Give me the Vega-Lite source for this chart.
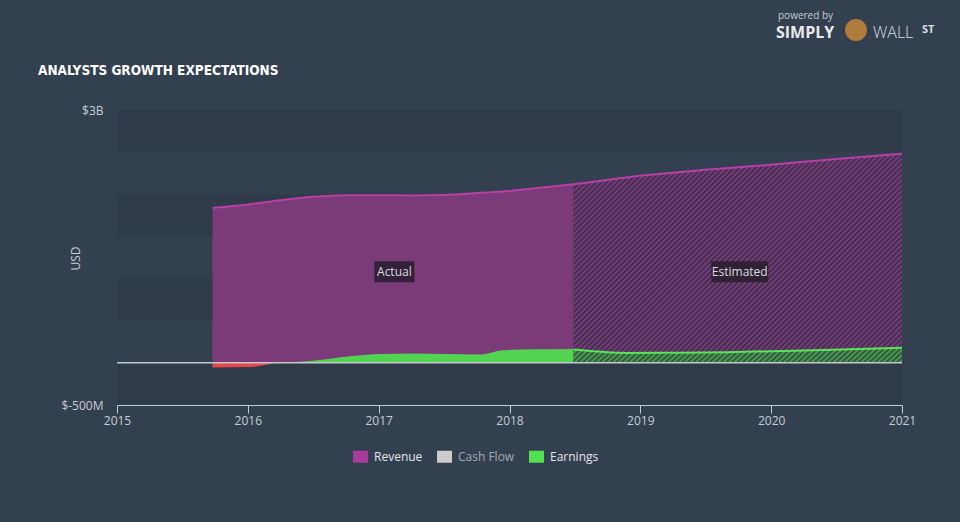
{
"$schema": "https://vega.github.io/schema/vega-lite/v6.json",
"width": 785, "height": 295,
"autosize": {"type": "none"},
"padding": {"left": 117, "top": 110, "right": 58, "bottom": 117},
"background": "#334050",
"config": {"view": {"stroke": null}, "font": "Open Sans"},
"datasets": {
"main": [
{"series": "Revenue", "period": "Actual", "year": 2015.73, "value": 1.84},
{"series": "Revenue", "period": "Actual", "year": 2016.0, "value": 1.88},
{"series": "Revenue", "period": "Actual", "year": 2016.25, "value": 1.93},
{"series": "Revenue", "period": "Actual", "year": 2016.5, "value": 1.97},
{"series": "Revenue", "period": "Actual", "year": 2016.75, "value": 1.99},
{"series": "Revenue", "period": "Actual", "year": 2017.0, "value": 1.99},
{"series": "Revenue", "period": "Actual", "year": 2017.25, "value": 1.987},
{"series": "Revenue", "period": "Actual", "year": 2017.5, "value": 1.992},
{"series": "Revenue", "period": "Actual", "year": 2017.78, "value": 2.017},
{"series": "Revenue", "period": "Actual", "year": 2018.0, "value": 2.04},
{"series": "Revenue", "period": "Actual", "year": 2018.25, "value": 2.08},
{"series": "Revenue", "period": "Actual", "year": 2018.49, "value": 2.12},
{"series": "Revenue", "period": "Estimated", "year": 2018.49, "value": 2.12},
{"series": "Revenue", "period": "Estimated", "year": 2019.0, "value": 2.22},
{"series": "Revenue", "period": "Estimated", "year": 2019.5, "value": 2.29},
{"series": "Revenue", "period": "Estimated", "year": 2020.0, "value": 2.35},
{"series": "Revenue", "period": "Estimated", "year": 2020.5, "value": 2.42},
{"series": "Revenue", "period": "Estimated", "year": 2021.0, "value": 2.48},
{"series": "Earnings", "period": "Actual", "year": 2015.73, "value": -0.055},
{"series": "Earnings", "period": "Actual", "year": 2016.0, "value": -0.05},
{"series": "Earnings", "period": "Actual", "year": 2016.1, "value": -0.035},
{"series": "Earnings", "period": "Actual", "year": 2016.22, "value": 0.0},
{"series": "Earnings", "period": "Actual", "year": 2016.5, "value": 0.025},
{"series": "Earnings", "period": "Actual", "year": 2016.76, "value": 0.075},
{"series": "Earnings", "period": "Actual", "year": 2017.0, "value": 0.105},
{"series": "Earnings", "period": "Actual", "year": 2017.27, "value": 0.112},
{"series": "Earnings", "period": "Actual", "year": 2017.5, "value": 0.105},
{"series": "Earnings", "period": "Actual", "year": 2017.78, "value": 0.1},
{"series": "Earnings", "period": "Actual", "year": 2017.95, "value": 0.15},
{"series": "Earnings", "period": "Actual", "year": 2018.2, "value": 0.16},
{"series": "Earnings", "period": "Actual", "year": 2018.49, "value": 0.165},
{"series": "Earnings", "period": "Estimated", "year": 2018.49, "value": 0.158},
{"series": "Earnings", "period": "Estimated", "year": 2018.9, "value": 0.118},
{"series": "Earnings", "period": "Estimated", "year": 2019.3, "value": 0.12},
{"series": "Earnings", "period": "Estimated", "year": 2019.66, "value": 0.127},
{"series": "Earnings", "period": "Estimated", "year": 2020.17, "value": 0.145},
{"series": "Earnings", "period": "Estimated", "year": 2020.6, "value": 0.162},
{"series": "Earnings", "period": "Estimated", "year": 2021.0, "value": 0.178}
],
"bands": [
{"lo": -0.5, "hi": 0},
{"lo": 0.5, "hi": 1},
{"lo": 1.5, "hi": 2},
{"lo": 2.5, "hi": 3}
]
},
"layer": [
{
"data": {"name": "bands"},
"mark": {"type": "rect", "fill": "#2f3b49"},
"encoding": {
"y": {"field": "lo", "type": "quantitative", "scale": {"domain": [-0.5, 3], "nice": false, "zero": false},
"axis": {"values": [-0.5, 3], "labelExpr": "datum.value == 3 ? '$3B' : '$-500M'", "grid": false, "domain": false, "ticks": false, "labelPadding": 14, "labelColor": "#c8cdd2", "labelFontSize": 12, "title": "USD", "titleColor": "#c8cdd2", "titleFontSize": 12, "titleFontWeight": "normal", "titleX": -42, "titleY": 148, "titleAngle": -90, "titleBaseline": "middle", "titleAlign": "center"}},
"y2": {"field": "hi"}
}
},
{
"data": {"name": "main"},
"transform": [{"filter": "datum.series == 'Revenue' && datum.period == 'Actual'"}],
"mark": {"type": "area", "fill": "#7b3a78", "interpolate": "monotone"},
"encoding": {
"x": {"field": "year", "type": "quantitative", "scale": {"domain": [2015, 2021], "nice": false, "zero": false},
"axis": {"values": [2015, 2016, 2017, 2018, 2019, 2020, 2021], "format": "d", "grid": false, "domainColor": "#c5ccd4", "tickColor": "#c5ccd4", "tickSize": 8, "labelColor": "#c8cdd2", "labelFontSize": 12, "labelPadding": 2, "labelFlush": false, "title": null}},
"y": {"field": "value", "type": "quantitative"},
"y2": {"datum": 0}
}
},
{
"data": {"name": "main"},
"transform": [{"filter": "datum.series == 'Revenue' && datum.period == 'Estimated'"}],
"mark": {"type": "area", "interpolate": "monotone",
"fill": {"gradient": "linear", "x1": 0, "y1": 0, "x2": 1.164, "y2": 0.741, "stops": [
{"offset":0,"color":"#833c82"},{"offset":0.005,"color":"#362e45"},{"offset":0.01,"color":"#833c82"},{"offset":0.015,"color":"#362e45"},{"offset":0.02,"color":"#833c82"},{"offset":0.025,"color":"#362e45"},{"offset":0.03,"color":"#833c82"},{"offset":0.035,"color":"#362e45"},{"offset":0.04,"color":"#833c82"},{"offset":0.045,"color":"#362e45"},
{"offset":0.05,"color":"#833c82"},{"offset":0.055,"color":"#362e45"},{"offset":0.06,"color":"#833c82"},{"offset":0.065,"color":"#362e45"},{"offset":0.07,"color":"#833c82"},{"offset":0.075,"color":"#362e45"},{"offset":0.08,"color":"#833c82"},{"offset":0.085,"color":"#362e45"},{"offset":0.09,"color":"#833c82"},{"offset":0.095,"color":"#362e45"},
{"offset":0.1,"color":"#833c82"},{"offset":0.105,"color":"#362e45"},{"offset":0.11,"color":"#833c82"},{"offset":0.115,"color":"#362e45"},{"offset":0.12,"color":"#833c82"},{"offset":0.125,"color":"#362e45"},{"offset":0.13,"color":"#833c82"},{"offset":0.135,"color":"#362e45"},{"offset":0.14,"color":"#833c82"},{"offset":0.145,"color":"#362e45"},
{"offset":0.15,"color":"#833c82"},{"offset":0.155,"color":"#362e45"},{"offset":0.16,"color":"#833c82"},{"offset":0.165,"color":"#362e45"},{"offset":0.17,"color":"#833c82"},{"offset":0.175,"color":"#362e45"},{"offset":0.18,"color":"#833c82"},{"offset":0.185,"color":"#362e45"},{"offset":0.19,"color":"#833c82"},{"offset":0.195,"color":"#362e45"},
{"offset":0.2,"color":"#833c82"},{"offset":0.205,"color":"#362e45"},{"offset":0.21,"color":"#833c82"},{"offset":0.215,"color":"#362e45"},{"offset":0.22,"color":"#833c82"},{"offset":0.225,"color":"#362e45"},{"offset":0.23,"color":"#833c82"},{"offset":0.235,"color":"#362e45"},{"offset":0.24,"color":"#833c82"},{"offset":0.245,"color":"#362e45"},
{"offset":0.25,"color":"#833c82"},{"offset":0.255,"color":"#362e45"},{"offset":0.26,"color":"#833c82"},{"offset":0.265,"color":"#362e45"},{"offset":0.27,"color":"#833c82"},{"offset":0.275,"color":"#362e45"},{"offset":0.28,"color":"#833c82"},{"offset":0.285,"color":"#362e45"},{"offset":0.29,"color":"#833c82"},{"offset":0.295,"color":"#362e45"},
{"offset":0.3,"color":"#833c82"},{"offset":0.305,"color":"#362e45"},{"offset":0.31,"color":"#833c82"},{"offset":0.315,"color":"#362e45"},{"offset":0.32,"color":"#833c82"},{"offset":0.325,"color":"#362e45"},{"offset":0.33,"color":"#833c82"},{"offset":0.335,"color":"#362e45"},{"offset":0.34,"color":"#833c82"},{"offset":0.345,"color":"#362e45"},
{"offset":0.35,"color":"#833c82"},{"offset":0.355,"color":"#362e45"},{"offset":0.36,"color":"#833c82"},{"offset":0.365,"color":"#362e45"},{"offset":0.37,"color":"#833c82"},{"offset":0.375,"color":"#362e45"},{"offset":0.38,"color":"#833c82"},{"offset":0.385,"color":"#362e45"},{"offset":0.39,"color":"#833c82"},{"offset":0.395,"color":"#362e45"},
{"offset":0.4,"color":"#833c82"},{"offset":0.405,"color":"#362e45"},{"offset":0.41,"color":"#833c82"},{"offset":0.415,"color":"#362e45"},{"offset":0.42,"color":"#833c82"},{"offset":0.425,"color":"#362e45"},{"offset":0.43,"color":"#833c82"},{"offset":0.435,"color":"#362e45"},{"offset":0.44,"color":"#833c82"},{"offset":0.445,"color":"#362e45"},
{"offset":0.45,"color":"#833c82"},{"offset":0.455,"color":"#362e45"},{"offset":0.46,"color":"#833c82"},{"offset":0.465,"color":"#362e45"},{"offset":0.47,"color":"#833c82"},{"offset":0.475,"color":"#362e45"},{"offset":0.48,"color":"#833c82"},{"offset":0.485,"color":"#362e45"},{"offset":0.49,"color":"#833c82"},{"offset":0.495,"color":"#362e45"},
{"offset":0.5,"color":"#833c82"},{"offset":0.505,"color":"#362e45"},{"offset":0.51,"color":"#833c82"},{"offset":0.515,"color":"#362e45"},{"offset":0.52,"color":"#833c82"},{"offset":0.525,"color":"#362e45"},{"offset":0.53,"color":"#833c82"},{"offset":0.535,"color":"#362e45"},{"offset":0.54,"color":"#833c82"},{"offset":0.545,"color":"#362e45"},
{"offset":0.55,"color":"#833c82"},{"offset":0.555,"color":"#362e45"},{"offset":0.56,"color":"#833c82"},{"offset":0.565,"color":"#362e45"},{"offset":0.57,"color":"#833c82"},{"offset":0.575,"color":"#362e45"},{"offset":0.58,"color":"#833c82"},{"offset":0.585,"color":"#362e45"},{"offset":0.59,"color":"#833c82"},{"offset":0.595,"color":"#362e45"},
{"offset":0.6,"color":"#833c82"},{"offset":0.605,"color":"#362e45"},{"offset":0.61,"color":"#833c82"},{"offset":0.615,"color":"#362e45"},{"offset":0.62,"color":"#833c82"},{"offset":0.625,"color":"#362e45"},{"offset":0.63,"color":"#833c82"},{"offset":0.635,"color":"#362e45"},{"offset":0.64,"color":"#833c82"},{"offset":0.645,"color":"#362e45"},
{"offset":0.65,"color":"#833c82"},{"offset":0.655,"color":"#362e45"},{"offset":0.66,"color":"#833c82"},{"offset":0.665,"color":"#362e45"},{"offset":0.67,"color":"#833c82"},{"offset":0.675,"color":"#362e45"},{"offset":0.68,"color":"#833c82"},{"offset":0.685,"color":"#362e45"},{"offset":0.69,"color":"#833c82"},{"offset":0.695,"color":"#362e45"},
{"offset":0.7,"color":"#833c82"},{"offset":0.705,"color":"#362e45"},{"offset":0.71,"color":"#833c82"},{"offset":0.715,"color":"#362e45"},{"offset":0.72,"color":"#833c82"},{"offset":0.725,"color":"#362e45"},{"offset":0.73,"color":"#833c82"},{"offset":0.735,"color":"#362e45"},{"offset":0.74,"color":"#833c82"},{"offset":0.745,"color":"#362e45"},
{"offset":0.75,"color":"#833c82"},{"offset":0.755,"color":"#362e45"},{"offset":0.76,"color":"#833c82"},{"offset":0.765,"color":"#362e45"},{"offset":0.77,"color":"#833c82"},{"offset":0.775,"color":"#362e45"},{"offset":0.78,"color":"#833c82"},{"offset":0.785,"color":"#362e45"},{"offset":0.79,"color":"#833c82"},{"offset":0.795,"color":"#362e45"},
{"offset":0.8,"color":"#833c82"},{"offset":0.805,"color":"#362e45"},{"offset":0.81,"color":"#833c82"},{"offset":0.815,"color":"#362e45"},{"offset":0.82,"color":"#833c82"},{"offset":0.825,"color":"#362e45"},{"offset":0.83,"color":"#833c82"},{"offset":0.835,"color":"#362e45"},{"offset":0.84,"color":"#833c82"},{"offset":0.845,"color":"#362e45"},
{"offset":0.85,"color":"#833c82"},{"offset":0.855,"color":"#362e45"},{"offset":0.86,"color":"#833c82"},{"offset":0.865,"color":"#362e45"},{"offset":0.87,"color":"#833c82"},{"offset":0.875,"color":"#362e45"},{"offset":0.88,"color":"#833c82"},{"offset":0.885,"color":"#362e45"},{"offset":0.89,"color":"#833c82"},{"offset":0.895,"color":"#362e45"},
{"offset":0.9,"color":"#833c82"},{"offset":0.905,"color":"#362e45"},{"offset":0.91,"color":"#833c82"},{"offset":0.915,"color":"#362e45"},{"offset":0.92,"color":"#833c82"},{"offset":0.925,"color":"#362e45"},{"offset":0.93,"color":"#833c82"},{"offset":0.935,"color":"#362e45"},{"offset":0.94,"color":"#833c82"},{"offset":0.945,"color":"#362e45"},
{"offset":0.95,"color":"#833c82"},{"offset":0.955,"color":"#362e45"},{"offset":0.96,"color":"#833c82"},{"offset":0.965,"color":"#362e45"},{"offset":0.97,"color":"#833c82"},{"offset":0.975,"color":"#362e45"},{"offset":0.98,"color":"#833c82"},{"offset":0.985,"color":"#362e45"},{"offset":0.99,"color":"#833c82"},{"offset":0.995,"color":"#362e45"},
{"offset":1,"color":"#833c82"}
]}},
"encoding": {
"x": {"field": "year", "type": "quantitative"},
"y": {"field": "value", "type": "quantitative"},
"y2": {"datum": 0}
}
},
{
"data": {"name": "main"},
"transform": [{"filter": "datum.series == 'Revenue'"}],
"mark": {"type": "line", "stroke": "#b83ea8", "strokeWidth": 2, "interpolate": "monotone"},
"encoding": {
"x": {"field": "year", "type": "quantitative"},
"y": {"field": "value", "type": "quantitative"}
}
},
{
"data": {"name": "main"},
"transform": [{"filter": "datum.series == 'Earnings' && datum.period == 'Actual' && datum.year <= 2016.22"}],
"mark": {"type": "area", "fill": "#e8474a", "interpolate": "monotone"},
"encoding": {
"x": {"field": "year", "type": "quantitative"},
"y": {"field": "value", "type": "quantitative"},
"y2": {"datum": 0}
}
},
{
"data": {"name": "main"},
"transform": [{"filter": "datum.series == 'Earnings' && datum.period == 'Actual' && datum.year >= 2016.22"}],
"mark": {"type": "area", "fill": "#52d452", "interpolate": "monotone"},
"encoding": {
"x": {"field": "year", "type": "quantitative"},
"y": {"field": "value", "type": "quantitative"},
"y2": {"datum": 0}
}
},
{
"data": {"name": "main"},
"transform": [{"filter": "datum.series == 'Earnings' && datum.period == 'Estimated'"}],
"mark": {"type": "area", "interpolate": "monotone",
"fill": {"gradient": "linear", "x1": 0, "y1": 0, "x2": 1.046, "y2": 0.051, "stops": [
{"offset":0,"color":"#4ea84e"},{"offset":0.008,"color":"#2e4a3f"},{"offset":0.016,"color":"#4ea84e"},{"offset":0.024,"color":"#2e4a3f"},{"offset":0.032,"color":"#4ea84e"},{"offset":0.04,"color":"#2e4a3f"},{"offset":0.048,"color":"#4ea84e"},{"offset":0.056,"color":"#2e4a3f"},{"offset":0.064,"color":"#4ea84e"},{"offset":0.072,"color":"#2e4a3f"},
{"offset":0.08,"color":"#4ea84e"},{"offset":0.088,"color":"#2e4a3f"},{"offset":0.096,"color":"#4ea84e"},{"offset":0.104,"color":"#2e4a3f"},{"offset":0.112,"color":"#4ea84e"},{"offset":0.12,"color":"#2e4a3f"},{"offset":0.128,"color":"#4ea84e"},{"offset":0.136,"color":"#2e4a3f"},{"offset":0.144,"color":"#4ea84e"},{"offset":0.152,"color":"#2e4a3f"},
{"offset":0.16,"color":"#4ea84e"},{"offset":0.168,"color":"#2e4a3f"},{"offset":0.176,"color":"#4ea84e"},{"offset":0.184,"color":"#2e4a3f"},{"offset":0.192,"color":"#4ea84e"},{"offset":0.2,"color":"#2e4a3f"},{"offset":0.208,"color":"#4ea84e"},{"offset":0.216,"color":"#2e4a3f"},{"offset":0.224,"color":"#4ea84e"},{"offset":0.232,"color":"#2e4a3f"},
{"offset":0.24,"color":"#4ea84e"},{"offset":0.248,"color":"#2e4a3f"},{"offset":0.256,"color":"#4ea84e"},{"offset":0.264,"color":"#2e4a3f"},{"offset":0.272,"color":"#4ea84e"},{"offset":0.28,"color":"#2e4a3f"},{"offset":0.288,"color":"#4ea84e"},{"offset":0.296,"color":"#2e4a3f"},{"offset":0.304,"color":"#4ea84e"},{"offset":0.312,"color":"#2e4a3f"},
{"offset":0.32,"color":"#4ea84e"},{"offset":0.328,"color":"#2e4a3f"},{"offset":0.336,"color":"#4ea84e"},{"offset":0.344,"color":"#2e4a3f"},{"offset":0.352,"color":"#4ea84e"},{"offset":0.36,"color":"#2e4a3f"},{"offset":0.368,"color":"#4ea84e"},{"offset":0.376,"color":"#2e4a3f"},{"offset":0.384,"color":"#4ea84e"},{"offset":0.392,"color":"#2e4a3f"},
{"offset":0.4,"color":"#4ea84e"},{"offset":0.408,"color":"#2e4a3f"},{"offset":0.416,"color":"#4ea84e"},{"offset":0.424,"color":"#2e4a3f"},{"offset":0.432,"color":"#4ea84e"},{"offset":0.44,"color":"#2e4a3f"},{"offset":0.448,"color":"#4ea84e"},{"offset":0.456,"color":"#2e4a3f"},{"offset":0.464,"color":"#4ea84e"},{"offset":0.472,"color":"#2e4a3f"},
{"offset":0.48,"color":"#4ea84e"},{"offset":0.488,"color":"#2e4a3f"},{"offset":0.496,"color":"#4ea84e"},{"offset":0.504,"color":"#2e4a3f"},{"offset":0.512,"color":"#4ea84e"},{"offset":0.52,"color":"#2e4a3f"},{"offset":0.528,"color":"#4ea84e"},{"offset":0.536,"color":"#2e4a3f"},{"offset":0.544,"color":"#4ea84e"},{"offset":0.552,"color":"#2e4a3f"},
{"offset":0.56,"color":"#4ea84e"},{"offset":0.568,"color":"#2e4a3f"},{"offset":0.576,"color":"#4ea84e"},{"offset":0.584,"color":"#2e4a3f"},{"offset":0.592,"color":"#4ea84e"},{"offset":0.6,"color":"#2e4a3f"},{"offset":0.608,"color":"#4ea84e"},{"offset":0.616,"color":"#2e4a3f"},{"offset":0.624,"color":"#4ea84e"},{"offset":0.632,"color":"#2e4a3f"},
{"offset":0.64,"color":"#4ea84e"},{"offset":0.648,"color":"#2e4a3f"},{"offset":0.656,"color":"#4ea84e"},{"offset":0.664,"color":"#2e4a3f"},{"offset":0.672,"color":"#4ea84e"},{"offset":0.68,"color":"#2e4a3f"},{"offset":0.688,"color":"#4ea84e"},{"offset":0.696,"color":"#2e4a3f"},{"offset":0.704,"color":"#4ea84e"},{"offset":0.712,"color":"#2e4a3f"},
{"offset":0.72,"color":"#4ea84e"},{"offset":0.728,"color":"#2e4a3f"},{"offset":0.736,"color":"#4ea84e"},{"offset":0.744,"color":"#2e4a3f"},{"offset":0.752,"color":"#4ea84e"},{"offset":0.76,"color":"#2e4a3f"},{"offset":0.768,"color":"#4ea84e"},{"offset":0.776,"color":"#2e4a3f"},{"offset":0.784,"color":"#4ea84e"},{"offset":0.792,"color":"#2e4a3f"},
{"offset":0.8,"color":"#4ea84e"},{"offset":0.808,"color":"#2e4a3f"},{"offset":0.816,"color":"#4ea84e"},{"offset":0.824,"color":"#2e4a3f"},{"offset":0.832,"color":"#4ea84e"},{"offset":0.84,"color":"#2e4a3f"},{"offset":0.848,"color":"#4ea84e"},{"offset":0.856,"color":"#2e4a3f"},{"offset":0.864,"color":"#4ea84e"},{"offset":0.872,"color":"#2e4a3f"},
{"offset":0.88,"color":"#4ea84e"},{"offset":0.888,"color":"#2e4a3f"},{"offset":0.896,"color":"#4ea84e"},{"offset":0.904,"color":"#2e4a3f"},{"offset":0.912,"color":"#4ea84e"},{"offset":0.92,"color":"#2e4a3f"},{"offset":0.928,"color":"#4ea84e"},{"offset":0.936,"color":"#2e4a3f"},{"offset":0.944,"color":"#4ea84e"},{"offset":0.952,"color":"#2e4a3f"},
{"offset":0.96,"color":"#4ea84e"},{"offset":0.968,"color":"#2e4a3f"},{"offset":0.976,"color":"#4ea84e"},{"offset":0.984,"color":"#2e4a3f"},{"offset":0.992,"color":"#4ea84e"},{"offset":1,"color":"#2e4a3f"}
]}},
"encoding": {
"x": {"field": "year", "type": "quantitative"},
"y": {"field": "value", "type": "quantitative"},
"y2": {"datum": 0}
}
},
{
"data": {"name": "main"},
"transform": [{"filter": "datum.series == 'Earnings' && datum.period == 'Estimated'"}],
"mark": {"type": "line", "stroke": "#5be35b", "strokeWidth": 2, "interpolate": "monotone"},
"encoding": {
"x": {"field": "year", "type": "quantitative"},
"y": {"field": "value", "type": "quantitative"}
}
},
{
"data": {"values": [{}]},
"mark": {"type": "rule", "stroke": "#c4c8cc", "strokeWidth": 1.5},
"encoding": {
"y": {"datum": 0, "type": "quantitative"}
}
},
{
"data": {"values": [{}]},
"mark": {"type": "rect", "width": 40, "height": 21, "fill": "#2a1f32", "opacity": 0.9},
"encoding": {
"x": {"datum": 2017.12, "type": "quantitative"},
"y": {"datum": 1.08, "type": "quantitative"}
}
},
{
"data": {"values": [{}]},
"mark": {"type": "rect", "width": 57, "height": 21, "fill": "#2a1f32", "opacity": 0.9},
"encoding": {
"x": {"datum": 2019.76, "type": "quantitative"},
"y": {"datum": 1.08, "type": "quantitative"}
}
},
{
"data": {"values": [{"label": "Actual", "year": 2017.12}, {"label": "Estimated", "year": 2019.76}]},
"mark": {"type": "text", "fill": "#dcdcdc", "fontSize": 12, "align": "center", "baseline": "middle"},
"encoding": {
"x": {"field": "year", "type": "quantitative"},
"y": {"datum": 1.08, "type": "quantitative"},
"text": {"field": "label"}
}
},
{
"data": {"name": "main"},
"transform": [{"filter": "datum.period == 'Actual'"}],
"mark": {"type": "point", "opacity": 0, "filled": true, "shape": "square"},
"encoding": {
"x": {"field": "year", "type": "quantitative"},
"y": {"field": "value", "type": "quantitative"},
"color": {"field": "series", "type": "nominal",
"scale": {"domain": ["Revenue", "Cash Flow", "Earnings"], "range": ["#a93b9b", "#cccccc", "#52e052"]},
"legend": {"title": null, "orient": "none", "legendX": 236, "legendY": 339, "direction": "horizontal",
"symbolType": "M-1,-0.8H1V0.8H-1Z", "symbolSize": 225, "symbolOpacity": 1, "symbolStrokeWidth": 0,
"labelColor": "#e0e3e6", "labelFontSize": 12, "labelOffset": 6, "columnPadding": 14,
"encode": {"labels": {"update": {"fill": {"signal": "datum.label == 'Cash Flow' ? '#a3a9b0' : '#e3e6e9'"}}}}}}
}
},
{
"data": {"values": [{}]},
"mark": {"type": "text", "text": "ANALYSTS GROWTH EXPECTATIONS", "x": -79, "y": -35, "align": "left", "baseline": "alphabetic", "font": "DejaVu Sans Condensed", "fontWeight": "bold", "fontSize": 13.5, "fill": "#ffffff"}
},
{
"data": {"values": [{}]},
"mark": {"type": "rule", "x": -79, "x2": 803, "y": -28, "y2": -28, "stroke": "#aab1b9", "strokeWidth": 2},
"encoding": {}
},
{
"data": {"values": [{}]},
"mark": {"type": "text", "text": "powered by", "x": 661, "y": -91, "align": "left", "baseline": "alphabetic", "fontSize": 10, "fill": "#c5cbd1"}
},
{
"data": {"values": [{}]},
"mark": {"type": "text", "text": "SIMPLY", "x": 659, "y": -72, "align": "left", "baseline": "alphabetic", "fontSize": 16, "fontWeight": "bold", "fill": "#e8eaec"}
},
{
"data": {"values": [{}]},
"mark": {"type": "point", "x": 739, "y": -80, "size": 480, "filled": true, "fill": "#b07d3c", "opacity": 1}
},
{
"data": {"values": [{}]},
"mark": {"type": "text", "text": "WALL", "x": 756, "y": -72, "align": "left", "baseline": "alphabetic", "fontSize": 16, "fontWeight": 300, "fill": "#d8dce0"}
},
{
"data": {"values": [{}]},
"mark": {"type": "text", "text": "ST", "x": 805, "y": -77, "align": "left", "baseline": "alphabetic", "fontSize": 11, "fontWeight": "bold", "fill": "#d8dce0"}
}
]
}
